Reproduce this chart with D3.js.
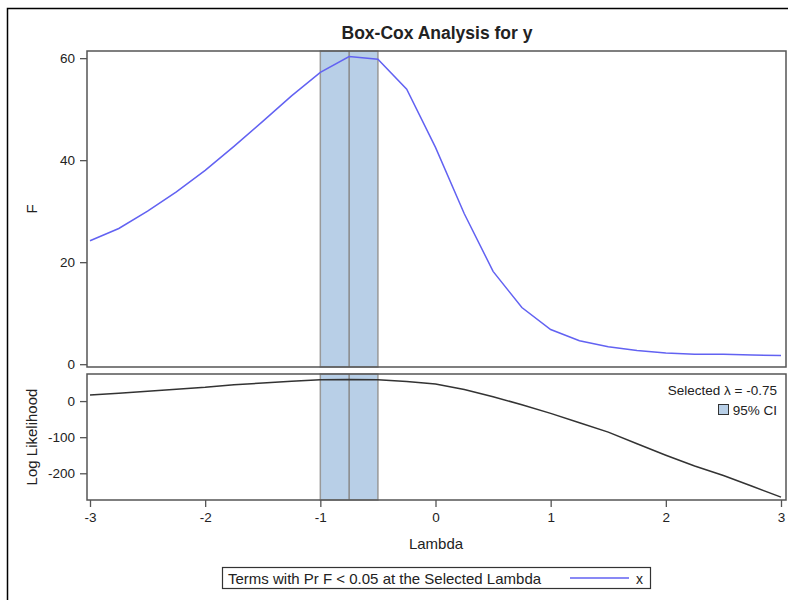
<!DOCTYPE html>
<html>
<head>
<meta charset="utf-8">
<script src="https://cdn.jsdelivr.net/npm/d3@7"></script>
<style>
  body { margin: 0; background: #fff; }
  text { font-family: "Liberation Sans", Arial, sans-serif; fill: #222; }
</style>
</head>
<body>
<svg id="chart" width="788" height="600"></svg>
<script>
// lambda grid and the two profiles
const lambdas = [-3, -2.75, -2.5, -2.25, -2, -1.75, -1.5, -1.25, -1, -0.75, -0.5, -0.25,
  0, 0.25, 0.5, 0.75, 1, 1.25, 1.5, 1.75, 2, 2.25, 2.5, 2.75, 3];
const fValues = [24.2, 26.6, 30.0, 33.8, 38.0, 42.7, 47.6, 52.6, 57.2, 60.3, 59.8, 53.9,
  42.5, 29.5, 18.2, 11.1, 6.8, 4.6, 3.4, 2.7, 2.2, 1.95, 1.95, 1.8, 1.7];
const logLik = [17, 22, 27, 33, 38, 45, 50, 55, 59, 60, 59, 54,
  47, 32, 12, -10, -34, -60, -86, -118, -150, -180, -206, -236, -266];

const selectedLambda = -0.75;
const ciBounds = [-1, -0.5];

const lambdaTicks = [-3, -2, -1, 0, 1, 2, 3];
const fTicks = [0, 20, 40, 60];
const llTicks = [-200, -100, 0];

const svg = d3.select('#chart');

// outer frame
svg.append('rect')
  .attr('x', 7.5).attr('y', 8.5)
  .attr('width', 800).attr('height', 620)
  .attr('fill', 'none').attr('stroke', '#000').attr('stroke-width', 1.5);

const left = 87, right = 786;
const top1 = 51, bottom1 = 367;
const top2 = 374, bottom2 = 500;

let x = d3.scaleLinear().domain([-3, 3]).range([90, 781]);
let yF = d3.scaleLinear().domain([-0.55, 61.4]).range([bottom1, top1]);
let yL = d3.scaleLinear().domain([-274, 75]).range([bottom2, top2]);

const axisColor = '#555';
const fmt = d => String(d); // plain hyphen minus, like the original

svg.append('text')
  .attr('x', 437).attr('y', 39)
  .attr('text-anchor', 'middle')
  .attr('font-size', 17.5).attr('font-weight', 'bold')
  .text('Box-Cox Analysis for y');

function panel(top, bottom) {
  let g = svg.append('g');
  // confidence band
  g.append('rect')
    .attr('x', x(ciBounds[0])).attr('y', top)
    .attr('width', x(ciBounds[1]) - x(ciBounds[0]))
    .attr('height', bottom - top)
    .attr('fill', '#b8cfe7')
    .attr('stroke', '#999').attr('stroke-width', 1.5);
  g.append('line')
    .attr('x1', x(selectedLambda)).attr('x2', x(selectedLambda))
    .attr('y1', top).attr('y2', bottom)
    .attr('stroke', '#888').attr('stroke-width', 1.5);
  return g;
}

function frame(top, bottom) {
  svg.append('rect')
    .attr('x', left).attr('y', top)
    .attr('width', right - left).attr('height', bottom - top)
    .attr('fill', 'none').attr('stroke', axisColor).attr('stroke-width', 1.5);
}

function styleAxis(g) {
  g.select('.domain').remove();
  g.selectAll('.tick line').attr('stroke', axisColor).attr('stroke-width', 1.3);
  g.selectAll('.tick text')
    .attr('font-family', '"Liberation Sans", Arial, sans-serif')
    .attr('font-size', 13.5).attr('fill', '#222');
}

// top panel: F
let p1 = panel(top1, bottom1);
p1.append('path')
  .datum(lambdas.map((l, i) => ({ l, v: fValues[i] })))
  .attr('fill', 'none')
  .attr('stroke', '#6262f2')
  .attr('stroke-width', 1.5)
  .attr('d', d3.line().x(d => x(d.l)).y(d => yF(d.v)));
frame(top1, bottom1);

svg.append('g')
  .attr('transform', `translate(${left},0)`)
  .call(d3.axisLeft(yF).tickValues(fTicks).tickSize(7).tickPadding(5).tickFormat(fmt))
  .call(styleAxis);

svg.append('text')
  .attr('transform', `translate(37,${(top1 + bottom1) / 2}) rotate(-90)`)
  .attr('text-anchor', 'middle').attr('font-size', 15)
  .text('F');

// bottom panel: log likelihood
let p2 = panel(top2, bottom2);
p2.append('path')
  .datum(lambdas.map((l, i) => ({ l, v: logLik[i] })))
  .attr('fill', 'none')
  .attr('stroke', '#333')
  .attr('stroke-width', 1.5)
  .attr('d', d3.line().x(d => x(d.l)).y(d => yL(d.v)));
frame(top2, bottom2);

svg.append('g')
  .attr('transform', `translate(${left},0)`)
  .call(d3.axisLeft(yL).tickValues(llTicks).tickSize(7).tickPadding(5).tickFormat(fmt))
  .call(styleAxis);

svg.append('text')
  .attr('transform', `translate(37,${(top2 + bottom2) / 2}) rotate(-90)`)
  .attr('text-anchor', 'middle').attr('font-size', 15)
  .text('Log Likelihood');

svg.append('g')
  .attr('transform', `translate(0,${bottom2})`)
  .call(d3.axisBottom(x).tickValues(lambdaTicks).tickSize(7).tickPadding(5).tickFormat(fmt))
  .call(styleAxis);

svg.append('text')
  .attr('x', 436).attr('y', 549)
  .attr('text-anchor', 'middle').attr('font-size', 15)
  .text('Lambda');

// inset legend
svg.append('text')
  .attr('x', 777).attr('y', 395)
  .attr('text-anchor', 'end').attr('font-size', 13.5)
  .text(`Selected λ = ${selectedLambda}`);
svg.append('rect')
  .attr('x', 718.5).attr('y', 404.5).attr('width', 10).attr('height', 10)
  .attr('fill', '#b8cfe7').attr('stroke', '#333');
svg.append('text')
  .attr('x', 777).attr('y', 415)
  .attr('text-anchor', 'end').attr('font-size', 13.5)
  .text('95% CI');

// bottom legend
svg.append('rect')
  .attr('x', 222.5).attr('y', 567.5).attr('width', 428).attr('height', 21)
  .attr('fill', '#fff').attr('stroke', '#333').attr('stroke-width', 1.2);
svg.append('text')
  .attr('x', 228).attr('y', 583.5).attr('font-size', 15)
  .text('Terms with Pr F < 0.05 at the Selected Lambda');
svg.append('line')
  .attr('x1', 570).attr('x2', 629).attr('y1', 578).attr('y2', 578)
  .attr('stroke', '#6262f2').attr('stroke-width', 1.5);
svg.append('text')
  .attr('x', 636).attr('y', 583.5).attr('font-size', 14)
  .text('x');
</script>
</body>
</html>
